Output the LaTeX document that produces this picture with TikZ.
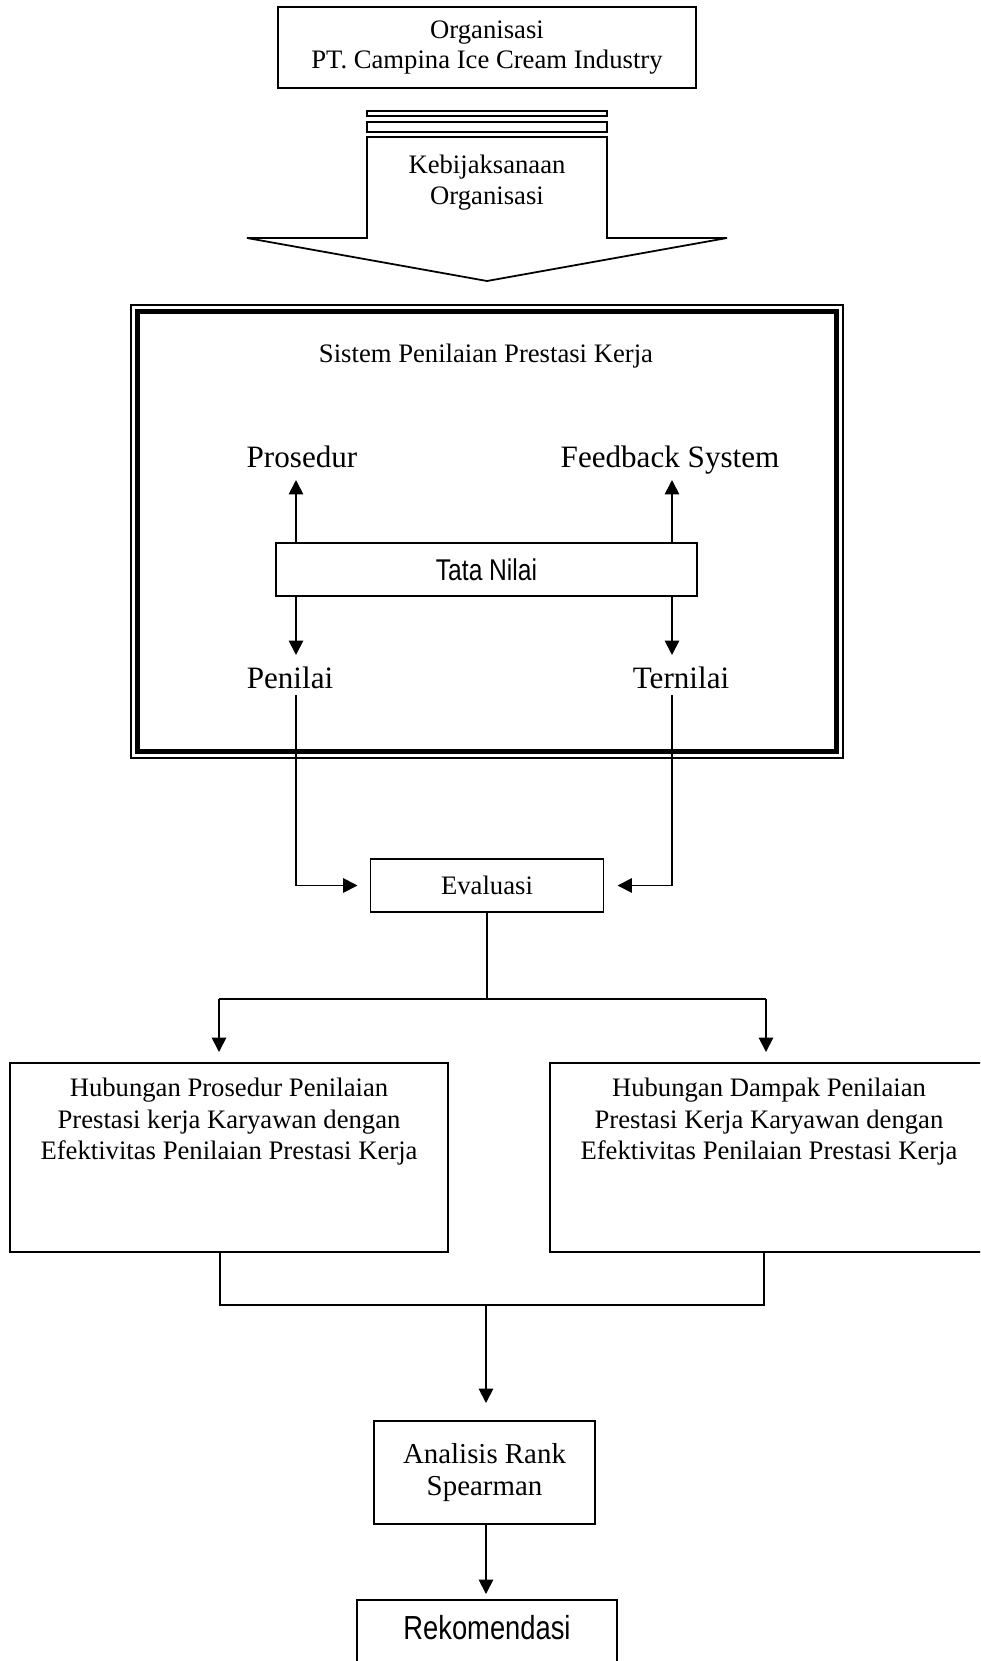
\documentclass[tikz,border=0pt]{standalone}
\usepackage{fontspec}
\setmainfont{Liberation Serif}
\newfontfamily\narrowsans[FakeStretch=0.82]{Liberation Sans}
\usetikzlibrary{arrows.meta}
\def\pxu{0.45pt}
\tikzset{
  box/.style={draw, line width=0.8pt, inner sep=0pt, outer sep=0pt},
  ln/.style={line width=0.8pt},
  arr/.style={line width=0.8pt, -{Triangle[width=6.5pt,length=6.5pt]}},
  serif12/.style={font=\fontsize{12}{13.5}\selectfont},
  serif14/.style={font=\fontsize{14}{16}\selectfont},
}
\begin{document}
\begin{tikzpicture}[x=0.45pt,y=-0.45pt]
\useasboundingbox (0,0) rectangle (980,1661);
\clip (0,0) rectangle (980,1661);

% top box
\node[box, serif12, align=center, minimum width=418*\pxu, minimum height=81*\pxu] (org) at (487,47.5) {Organisasi\\PT. Campina Ice Cream Industry};

% strips and block arrow
\draw[ln] (367,111) rectangle (607,116);
\draw[ln] (367,122) rectangle (607,132);
\draw[ln, line join=miter] (367,137) -- (607,137) -- (607,238) -- (727,238) -- (487,281) -- (247,238) -- (367,238) -- cycle;
\node[align=center, font=\fontsize{12}{14}\selectfont] (kebij) at (487,183) {Kebijaksanaan\\Organisasi};

% double frame
\draw[line width=0.5pt] (131,305) rectangle (843,758);
\draw[line width=2pt] (137.5,311.5) rectangle (836.5,751.5);

\node[serif12, anchor=base] (sistem) at (486,362) {Sistem Penilaian Prestasi Kerja};
\node[serif14, anchor=base] (pros) at (302,467) {Prosedur};
\node[serif14, anchor=base] (feed) at (670,467) {Feedback System};
\node[box, minimum width=421*\pxu, minimum height=53*\pxu, font=\narrowsans\fontsize{13.5}{15}\selectfont] (tata) at (486.5,569.5) {Tata Nilai};
\node[serif14, anchor=base] (penilai) at (290,688) {Penilai};
\node[serif14, anchor=base] (ternilai) at (681,688) {Ternilai};

\coordinate (pa) at (296,480);
\coordinate (fa) at (672,480);
\coordinate (pb) at (296,655);
\coordinate (tb) at (672,655);
\draw[arr] (pa |- tata.north) -- (pa);
\draw[arr] (fa |- tata.north) -- (fa);
\draw[arr] (pb |- tata.south) -- (pb);
\draw[arr] (tb |- tata.south) -- (tb);

% evaluasi
\node[box, serif12, minimum width=233*\pxu, minimum height=53*\pxu] (eval) at (487,885.5) {Evaluasi};
\coordinate (pl) at (296,695);
\coordinate (tl) at (672,695);
\draw[arr] (pl) |- ([xshift=-13*\pxu]eval.west);
\draw[arr] (tl) |- ([xshift=14*\pxu]eval.east);

\coordinate (split) at (487,999);
\coordinate (la) at (219,999);
\coordinate (ra) at (766,999);
\draw[ln] (eval.south) -- (split);
\draw[ln] (la) -- (ra);

% hubungan boxes
\node[box, minimum width=438*\pxu, minimum height=189*\pxu] (hpl) at (229,1157.5) {};
\node[box, minimum width=438*\pxu, minimum height=189*\pxu] (hpr) at (769,1157.5) {};
\node[align=center, font=\fontsize{12}{14.2}\selectfont] (hplt) at (229,1122) {Hubungan Prosedur Penilaian\\Prestasi kerja Karyawan dengan\\Efektivitas Penilaian Prestasi Kerja};
\node[align=center, font=\fontsize{12}{14.2}\selectfont] (hprt) at (769,1122) {Hubungan Dampak Penilaian\\Prestasi Kerja Karyawan dengan\\Efektivitas Penilaian Prestasi Kerja};
\draw[arr] (la) -- ([yshift=11*\pxu]la |- hpl.north);
\draw[arr] (ra) -- ([yshift=11*\pxu]ra |- hpr.north);

\coordinate (lb) at (220,1305);
\coordinate (rb) at (764,1305);
\coordinate (mid) at (486,1305);
\draw[ln] (lb |- hpl.south) -- (lb) -- (rb) -- (rb |- hpr.south);

% analisis
\node[box, align=center, font=\fontsize{13}{14}\selectfont, minimum width=221*\pxu, minimum height=103*\pxu] (ana) at (484.5,1472.5) {Analisis Rank\\Spearman};
\draw[arr] (mid) -- ([yshift=18*\pxu]mid |- ana.north);

% rekomendasi
\node[box, minimum width=260*\pxu, minimum height=100*\pxu] (rek) at (487,1650) {};
\node[font=\narrowsans\fontsize{15}{17}\selectfont] (rekt) at (487,1628) {Rekomendasi};
\coordinate (am) at (486,1524);
\draw[arr] (am) -- ([yshift=6*\pxu]am |- rek.north);
\end{tikzpicture}
\end{document}
